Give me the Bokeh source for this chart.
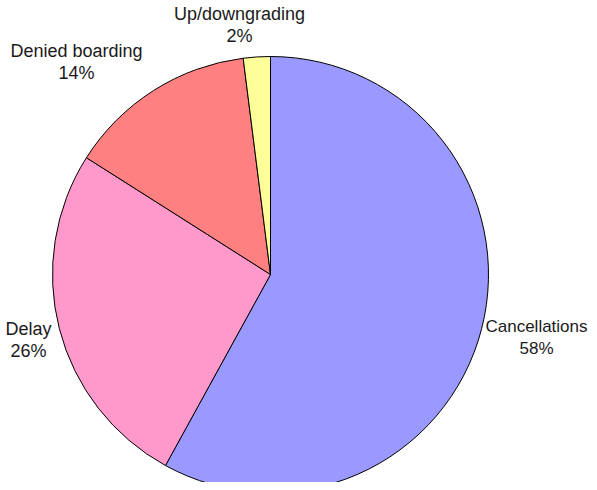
import math
from bokeh.plotting import figure
from bokeh.models import Range1d, ColumnDataSource
from bokeh.core.properties import value
from bokeh.embed import file_html
from bokeh.resources import INLINE

categories = ["Cancellations", "Delay", "Denied boarding", "Up/downgrading"]
shares = [58, 26, 14, 2]
colors = ["#9999FF", "#FF99CC", "#FF8080", "#FFFF99"]
pct_labels = ["58%", "26%", "14%", "2%"]

W, H = 589, 482
cx, cy, r = 270, H - 274, 218

total = sum(shares)
starts, ends = [], []
a = math.pi / 2
for s in shares:
    ang = 2 * math.pi * s / total
    starts.append(a)
    ends.append(a - ang)
    a -= ang

src = ColumnDataSource(dict(start=starts, end=ends, color=colors,
                            x=[cx] * 4, y=[cy] * 4))

p = figure(width=W, height=H, x_range=Range1d(0, W), y_range=Range1d(0, H),
           output_backend="svg", toolbar_location=None, min_border=0)
p.axis.visible = False
p.grid.visible = False
p.outline_line_color = None
p.background_fill_color = "white"

p.wedge(x="x", y="y", radius=r, start_angle="end", end_angle="start",
        fill_color="color", line_color="black", line_width=1, source=src)

# label layout (name line, percent line) in picture pixels from top-left
label_pos = [(536, 326), (28, 328), (76, 50), (239, 13)]
label_size = ["17px", "18px", "18px", "18px"]
lx = [px for px, py in label_pos]
ly1 = [H - py for px, py in label_pos]
ly2 = [y - 22 for y in ly1]

lsrc = ColumnDataSource(dict(x=lx, y1=ly1, y2=ly2, name=categories,
                             pct=pct_labels, size=label_size))
for ycol, tcol in (("y1", "name"), ("y2", "pct")):
    p.text(x="x", y=ycol, text=tcol, source=lsrc, text_align="center",
           text_baseline="middle", text_font=value("Liberation Sans"),
           text_font_size="size", text_color="#1a1a1a")

open("out.html", "w").write(file_html(p, INLINE))
